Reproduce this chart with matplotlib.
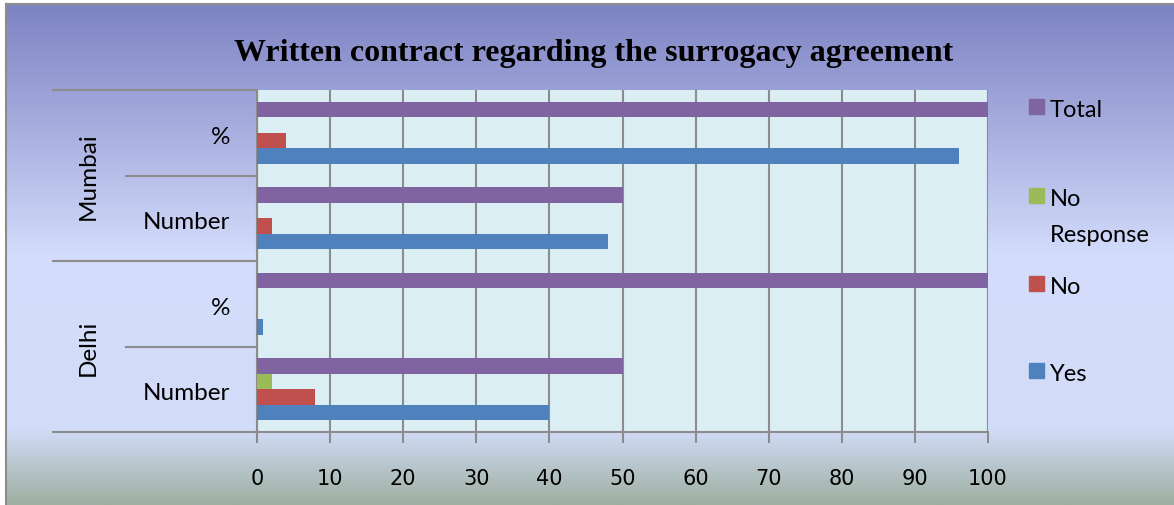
import numpy as np
import matplotlib.pyplot as plt
from matplotlib.colors import LinearSegmentedColormap
from matplotlib.patches import Rectangle
from matplotlib.lines import Line2D

# data
cities = ['Delhi', 'Mumbai']
kinds = ['Number', '%']
series = ['Yes', 'No', 'No Response', 'Total']
yes = [40, 0.8, 48, 96]
no = [8, 0, 2, 4]
no_resp = [2, 0, 0, 0]
total = [50, 100, 50, 100]
colors = ['#4F81BD', '#C0504D', '#9BBB59', '#8064A2']
xticks = [0, 10, 20, 30, 40, 50, 60, 70, 80, 90, 100]

W, H = 1174, 506
fig = plt.figure(figsize=(W / 100, H / 100), dpi=100)
fig.patch.set_facecolor('white')

# background gradient
bg = fig.add_axes([7 / W, 0, 1 - 7 / W, 1 - 6 / H])
cmap = LinearSegmentedColormap.from_list('bg', [
    (0.0, '#7E84C3'), (0.17, '#9BA0D6'), (0.51, '#D4DEFC'),
    (0.85, '#D2DCF8'), (1.0, '#9EAFA0')])
grad = np.linspace(0, 1, 256).reshape(-1, 1)
bg.imshow(grad, aspect='auto', cmap=cmap, extent=[0, 1, 1, 0])
bg.set_xlim(0, 1)
bg.set_ylim(1, 0)
bg.axis('off')
fig.add_artist(Line2D([6 / W, 6 / W], [0, 1 - 5 / H], color='#8C8C8C', lw=1.5))
fig.add_artist(Line2D([6 / W, 1], [1 - 5 / H, 1 - 5 / H], color='#8C8C8C', lw=1.5))

x0, x1, ytop, ybot = 257, 988, 91, 433
ax = fig.add_axes([x0 / W, (H - ybot) / H, (x1 - x0) / W, (ybot - ytop) / H])
ax.set_facecolor('#DAEEF3')

vals = [yes, no, no_resp, total]
n = len(yes)
h = 0.18
pos = np.arange(n)
for j, (v, c) in enumerate(zip(vals, colors)):
    ax.barh(pos + (j - 1.5) * h, v, height=h, color=c, zorder=3)

ax.set_xlim(0, 100)
ax.set_ylim(-0.5, n - 0.5)
ax.set_xticks(xticks)
ax.set_xticklabels([str(t) for t in xticks], family=['Liberation Sans Narrow', 'DejaVu Sans'],
                   fontsize=15)
ax.tick_params(axis='x', length=8, width=1.5, color='#8C8C8C', pad=18)
ax.set_yticks([])
ax.grid(axis='x', color='#8C8C8C', lw=1.5, zorder=1)
for s in ['top', 'right']:
    ax.spines[s].set_visible(False)
for s in ['left', 'bottom']:
    ax.spines[s].set_color('#8C8C8C')
    ax.spines[s].set_linewidth(1.5)

# multi-level category axis
tr = ax.get_yaxis_transform()
lab_font = ['Lato', 'DejaVu Sans']
outer_x = (53 - x0) / (x1 - x0)
inner_x = (126 - x0) / (x1 - x0)
for i in range(n + 1):
    xs = outer_x if i % 2 == 0 else inner_x
    ax.plot([xs, 0], [i - 0.5, i - 0.5], transform=tr, color='#8C8C8C', lw=1.5,
            clip_on=False)
for i in range(n):
    ax.text((230 - x0) / (x1 - x0), i - 0.04, kinds[i % 2], transform=tr, ha='right',
            va='center', fontsize=17.5, family=lab_font)
for k, c in enumerate(cities):
    ax.text((88 - x0) / (x1 - x0), 2 * k + 0.5, c, transform=tr, ha='center',
            va='center', rotation=90, fontsize=17.5, family=lab_font)

fig.text(594 / W, 1 - 53 / H, 'Written contract regarding the surrogacy agreement',
         ha='center', va='center', fontsize=23, fontweight='bold',
         family=['Liberation Serif', 'DejaVu Serif'])

# legend
leg_labels = ['Total', 'No\nResponse', 'No', 'Yes']
leg_colors = [colors[3], colors[2], colors[1], colors[0]]
leg_y = [108, 197, 285, 372]
for lab, c, y in zip(leg_labels, leg_colors, leg_y):
    fig.add_artist(Rectangle((1029 / W, 1 - (y + 7) / H), 15 / W, 15 / H,
                             transform=fig.transFigure, color=c))
    fig.text(1050 / W, 1 - (y - 8) / H, lab, ha='left', va='top', fontsize=17,
             family=lab_font, linespacing=1.9)

fig.savefig('out.png', dpi=100)
